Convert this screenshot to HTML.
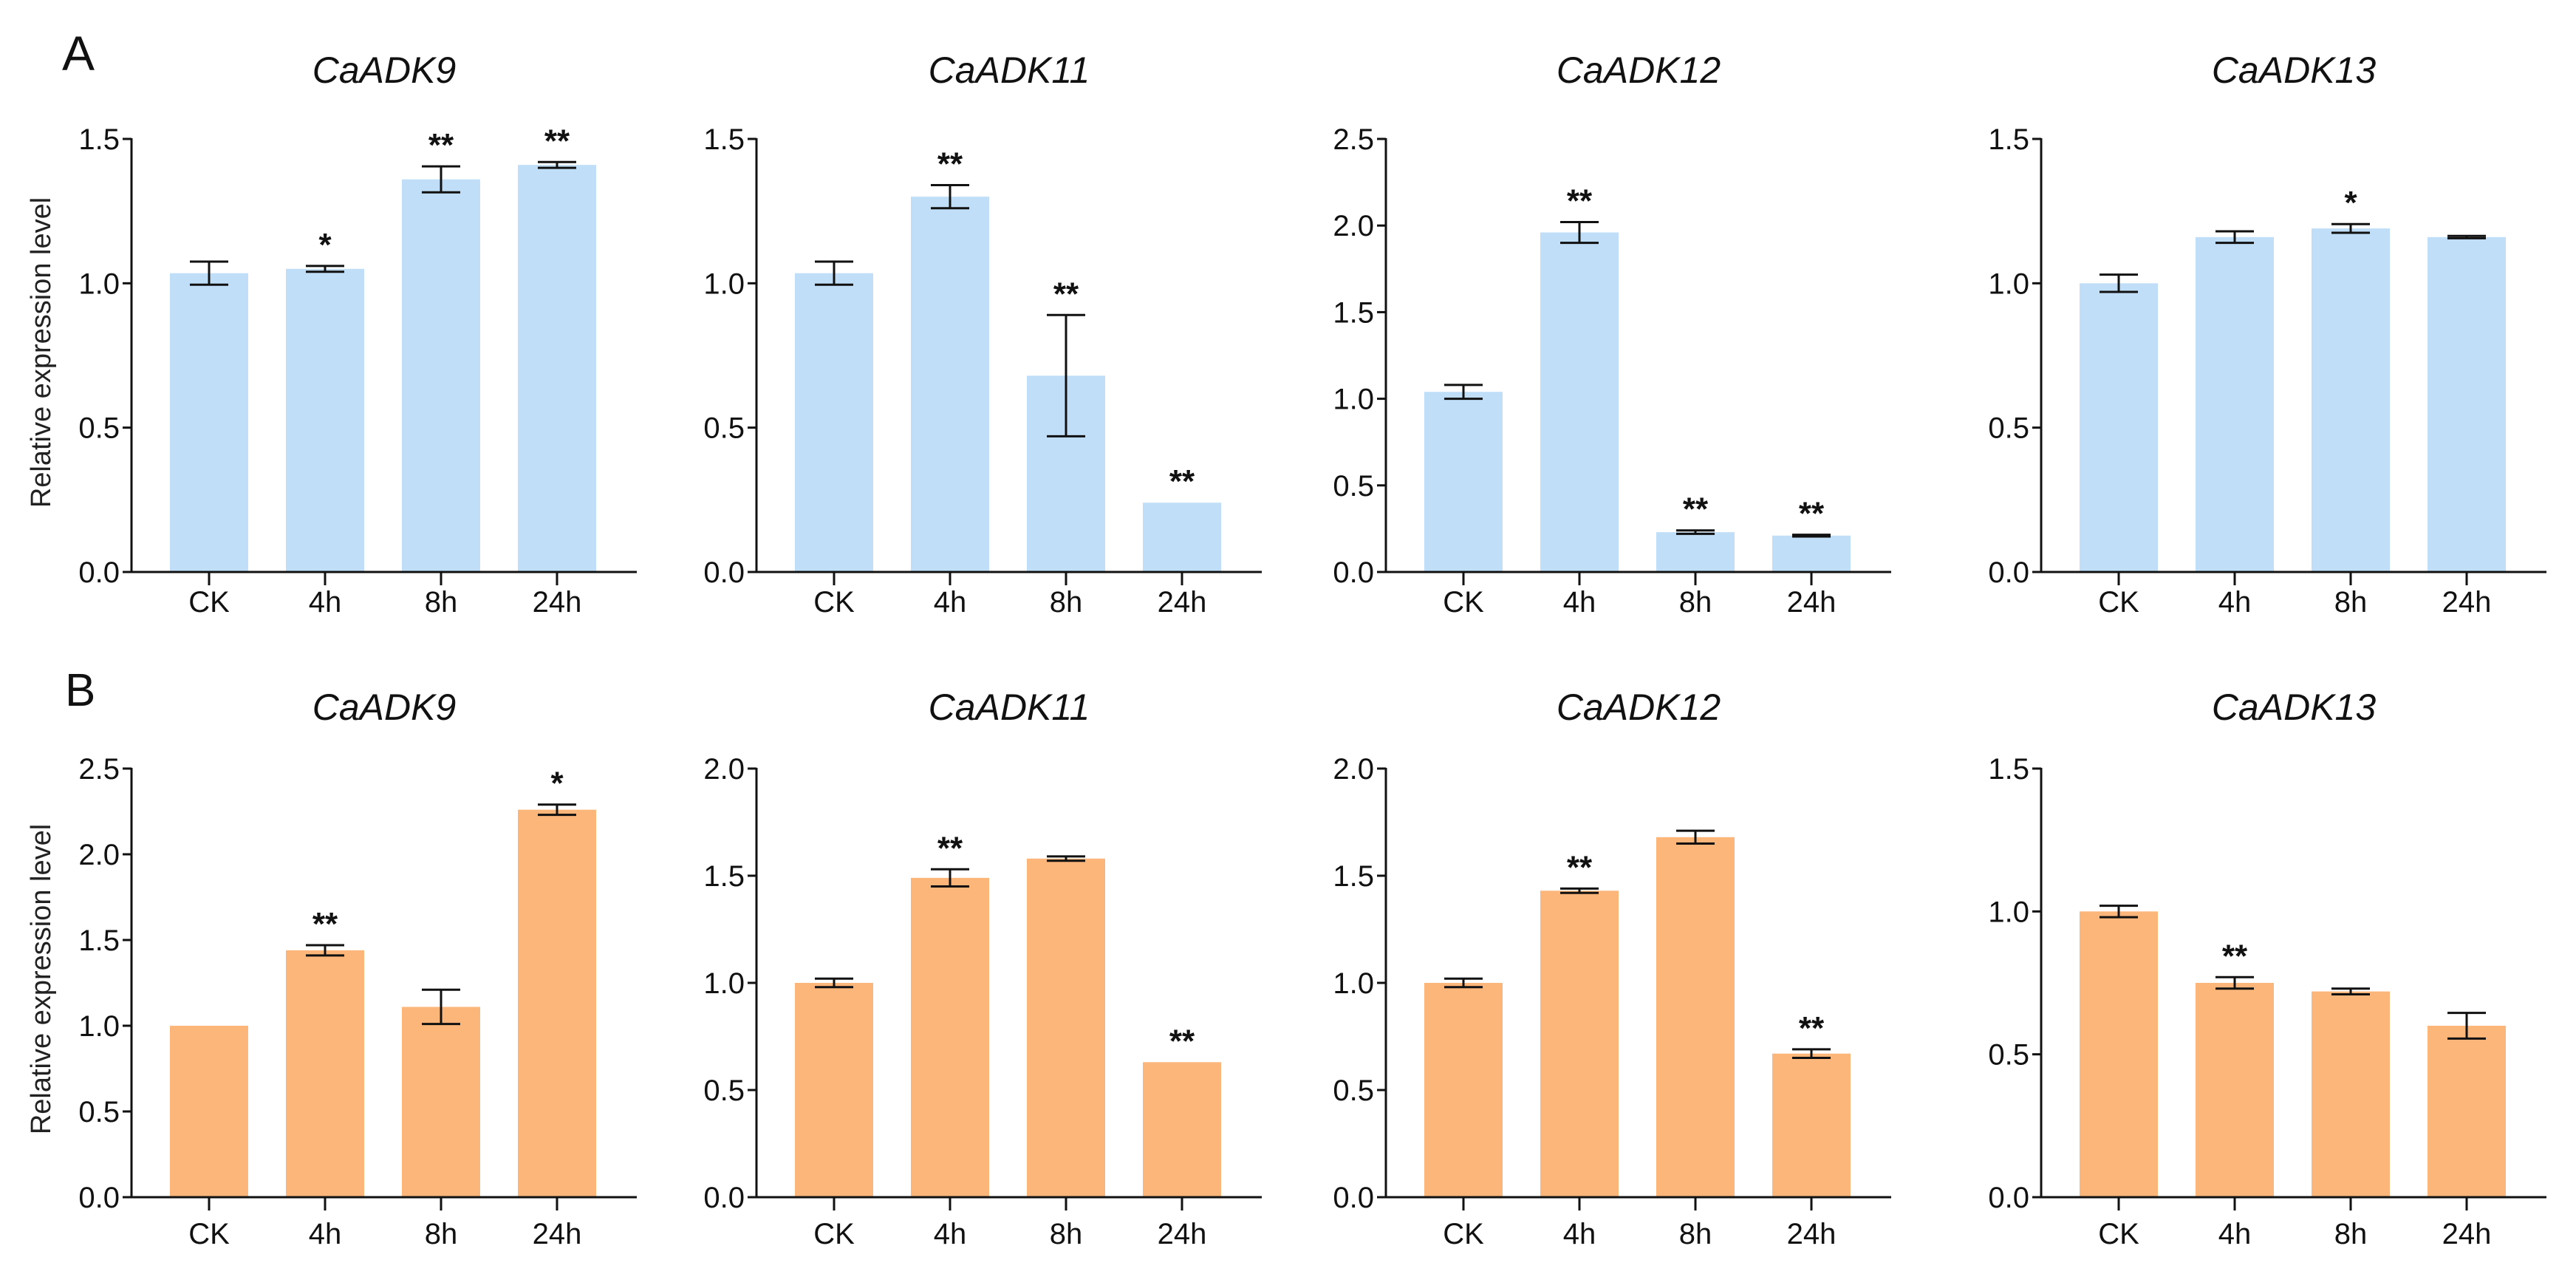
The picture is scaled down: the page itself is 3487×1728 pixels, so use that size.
<!DOCTYPE html>
<html><head><meta charset="utf-8">
<style>
html,body{margin:0;padding:0;background:#fff;}
svg{display:block;font-family:"Liberation Sans",Arial,sans-serif;}
</style></head>
<body>
<svg id="fig" width="3487" height="1728" viewBox="0 0 3487 1728" xmlns="http://www.w3.org/2000/svg">
<rect width="3487" height="1728" fill="#fff"/>
<text x="84" y="95" font-size="66" fill="#111">A</text>
<text x="88" y="955" font-size="62" fill="#111">B</text>
<text transform="translate(68,477) rotate(-90)" text-anchor="middle" font-size="38" fill="#222">Relative expression level</text>
<text transform="translate(68,1325) rotate(-90)" text-anchor="middle" font-size="38" fill="#222">Relative expression level</text>
</svg>
<script>
const categories = ["CK","4h","8h","24h"];
const titles = ["CaADK9","CaADK11","CaADK12","CaADK13","CaADK9","CaADK11","CaADK12","CaADK13"];
const yMaxes = [1.5,1.5,2.5,1.5,2.5,2.0,2.0,1.5];
const means = [
 [1.035,1.05,1.36,1.41],
 [1.035,1.30,0.68,0.24],
 [1.04,1.96,0.23,0.21],
 [1.00,1.16,1.19,1.16],
 [1.00,1.44,1.11,2.26],
 [1.00,1.49,1.58,0.63],
 [1.00,1.43,1.68,0.67],
 [1.00,0.75,0.72,0.60]
];
const errors = [
 [0.04,0.01,0.045,0.01],
 [0.04,0.04,0.21,0],
 [0.04,0.06,0.01,0.005],
 [0.03,0.02,0.015,0.004],
 [0,0.03,0.10,0.03],
 [0.02,0.04,0.01,0],
 [0.02,0.01,0.03,0.02],
 [0.02,0.02,0.01,0.045]
];
const stars = [
 ["","*","**","**"],
 ["","**","**","**"],
 ["","**","**","**"],
 ["","","*",""],
 ["","**","","*"],
 ["","**","","**"],
 ["","**","","**"],
 ["","**","",""]
];

const NS="http://www.w3.org/2000/svg";
const svg=document.getElementById('fig');
function mk(tag,attrs,parent){const e=document.createElementNS(NS,tag);for(const k in attrs)e.setAttribute(k,attrs[k]);(parent||svg).appendChild(e);return e;}
const axisXs=[178,1024,1876,2763];
for(let p=0;p<8;p++){
  const row=p<4?0:1, col=p%4;
  const ax=axisXs[col];
  const yTop=row?1040:188, y0=row?1620:774;
  const ymax=yMaxes[p];
  const Y=v=>y0-(v/ymax)*(y0-yTop);
  const X=i=>ax+105+157*i;
  const color=row?"#fdb67a":"#c0def7";
  const g=mk('g',{});
  
  
  const t=mk('text',{x:ax+342,y:row?974:112,'text-anchor':'middle','font-size':50,'font-style':'italic',fill:'#111'},g);
  t.textContent=titles[p];
  
  
  // bars
  means[p].forEach((v,i)=>{
    const r=mk('rect',{x:X(i)-53,y:Y(v),width:106,height:y0-Y(v),fill:color},g);
    
    
    const e=errors[p][i];
    if(e>0){
      const eg=mk('g',{stroke:'#111','stroke-width':3},g);
      
      
      mk('line',{x1:X(i),x2:X(i),y1:Y(v+e),y2:Y(v-e)},eg);
      mk('line',{x1:X(i)-26,x2:X(i)+26,y1:Y(v+e),y2:Y(v+e)},eg);
      mk('line',{x1:X(i)-26,x2:X(i)+26,y1:Y(v-e),y2:Y(v-e)},eg);
    }
    if(stars[p][i]){
      const s=mk('text',{x:X(i),y:Y(v+e)-14,'text-anchor':'middle','font-size':44,'font-weight':'bold',fill:'#111'},g);
      s.textContent=stars[p][i];
      
      
    }
  });
  // axes
  const axg=mk('g',{stroke:'#111','stroke-width':3},g);
  
  
  mk('line',{x1:ax,x2:ax,y1:yTop-1,y2:y0},axg);
  mk('line',{x1:ax-12,x2:ax+684,y1:y0,y2:y0},axg);
  for(let v=0;v<=ymax+1e-9;v+=0.5){
    mk('line',{x1:ax-12,x2:ax,y1:Y(v),y2:Y(v)},axg);
    const tl=mk('text',{x:ax-16,y:Y(v)+14,'text-anchor':'end','font-size':40,fill:'#111'},g);
    tl.textContent=v.toFixed(1);
    
    
  }
  categories.forEach((c,i)=>{
    mk('line',{x1:X(i),x2:X(i),y1:y0,y2:y0+18},axg);
    const xl=mk('text',{x:X(i),y:row?1683:828,'text-anchor':'middle','font-size':40,fill:'#111'},g);
    xl.textContent=c;
    
    
  });
}
</script>
</body></html>
